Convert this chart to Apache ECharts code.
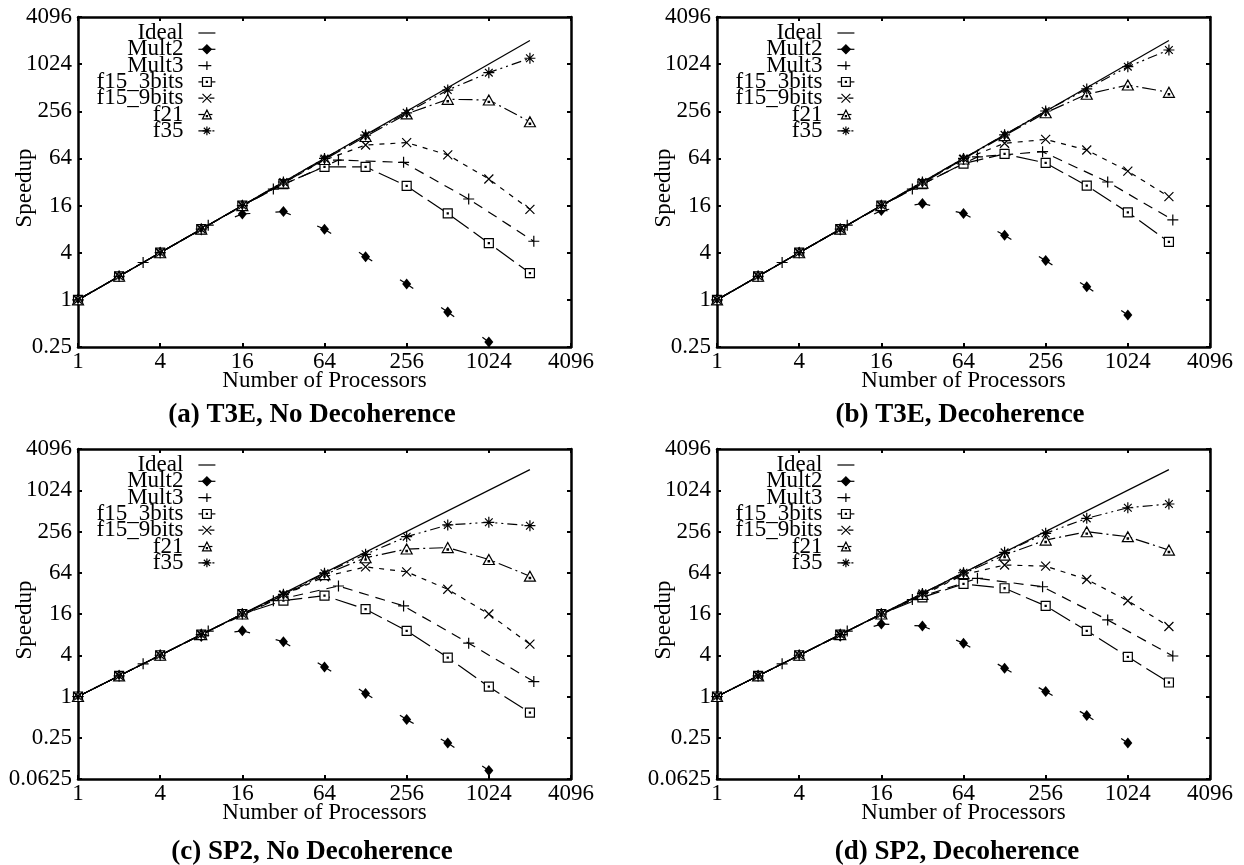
<!DOCTYPE html>
<html>
<head>
<meta charset="utf-8">
<title>Speedup vs number of processors</title>
<script src="https://cdn.jsdelivr.net/npm/echarts@6/dist/echarts.min.js"></script>
<style>
  html, body { margin: 0; padding: 0; background: #fff; }
  #chart { width: 1244px; height: 865px; }
</style>
</head>
<body>
<div id="chart"></div>
<script>
// processor counts
const P2 = [1, 2, 4, 8, 16, 32, 64, 128, 256, 512, 1024, 2048];
const P2_MULT2 = [1, 2, 4, 8, 16, 32, 64, 128, 256, 512, 1024];
const P3 = [1, 3, 9, 27, 81, 243, 729, 2187];
const IDEAL_X = [1, 2048];

const NAMES = ['Ideal', 'Mult2', 'Mult3', 'f15_3bits', 'f15_9bits', 'f21', 'f35'];
const CAPTIONS = ['(a) T3E, No Decoherence', '(b) T3E, Decoherence',
                  '(c) SP2, No Decoherence', '(d) SP2, Decoherence'];

// (a) T3E, no decoherence
const A_MULT2 = [1, 2, 4, 7.8, 12.5, 13.4, 8, 3.56, 1.59, 0.7, 0.29];
const A_MULT3 = [1, 3, 9, 26, 61, 57, 19.4, 5.6];
const A_F15_3 = [1, 2, 4, 8, 16, 30, 50, 50, 28.5, 12.7, 5.3, 2.2];
const A_F15_9 = [1, 2, 4, 8, 16, 31, 61, 95, 102, 71, 35, 14.3];
const A_F21 = [1, 2, 4, 8, 16, 31, 62, 122, 237, 364, 357, 188];
const A_F35 = [1, 2, 4, 8, 16, 32, 64, 127, 245, 478, 797, 1218];

// (b) T3E, decoherence
const B_MULT2 = [1, 2, 4, 7.8, 13.8, 17, 12.7, 6.7, 3.17, 1.47, 0.64];
const B_MULT3 = [1, 3, 9, 26, 67, 78, 32, 10.5];
const B_F15_3 = [1, 2, 4, 8, 16, 30, 55, 73, 56, 28.7, 13.1, 5.5];
const B_F15_9 = [1, 2, 4, 8, 16, 31, 62, 100, 112, 82, 44, 20.8];
const B_F21 = [1, 2, 4, 8, 16, 31, 63, 125, 245, 422, 555, 447];
const B_F35 = [1, 2, 4, 8, 16, 32, 64, 128, 258, 494, 950, 1552];

// (c) SP2, no decoherence
const C_MULT2 = [1, 2, 4, 7.5, 9.1, 6.3, 2.7, 1.11, 0.46, 0.21, 0.083];
const C_MULT3 = [1, 3, 9, 25, 41, 21, 6.0, 1.65];
const C_F15_3 = [1, 2, 4, 8, 16, 25, 29.6, 18.8, 9.1, 3.7, 1.39, 0.58];
const C_F15_9 = [1, 2, 4, 8, 16, 30, 56, 78, 66, 36.7, 16, 5.8];
const C_F21 = [1, 2, 4, 8, 16, 30, 60, 106, 142, 149, 100, 57];
const C_F35 = [1, 2, 4, 8, 16, 31, 63, 119, 215, 319, 349, 311];

// (d) SP2, decoherence
const D_MULT2 = [1, 2, 4, 7.6, 11.4, 10.7, 6.0, 2.58, 1.18, 0.53, 0.21];
const D_MULT3 = [1, 3, 9, 26, 53, 40, 13.1, 3.9];
const D_F15_3 = [1, 2, 4, 8, 16, 28, 44, 38, 21, 9.1, 3.8, 1.6];
const D_F15_9 = [1, 2, 4, 8, 16, 30, 60, 83, 80, 51, 25, 10.5];
const D_F21 = [1, 2, 4, 8, 16, 31, 62, 116, 192, 254, 215, 137];
const D_F35 = [1, 2, 4, 8, 16, 32, 64, 127, 241, 398, 569, 645];

const PANELS = [
  { mult2: A_MULT2, mult3: A_MULT3, f15_3: A_F15_3, f15_9: A_F15_9, f21: A_F21, f35: A_F35, yMin: -2 },
  { mult2: B_MULT2, mult3: B_MULT3, f15_3: B_F15_3, f15_9: B_F15_9, f21: B_F21, f35: B_F35, yMin: -2 },
  { mult2: C_MULT2, mult3: C_MULT3, f15_3: C_F15_3, f15_9: C_F15_9, f21: C_F21, f35: C_F35, yMin: -4 },
  { mult2: D_MULT2, mult3: D_MULT3, f15_3: D_F15_3, f15_9: D_F15_9, f21: D_F21, f35: D_F35, yMin: -4 }
];

const GRIDS = [
  { left: 78, top: 17, width: 493, height: 330, outerBoundsMode: 'none', containLabel: false },
  { left: 717, top: 17, width: 493, height: 330, outerBoundsMode: 'none', containLabel: false },
  { left: 78, top: 449, width: 493, height: 330, outerBoundsMode: 'none', containLabel: false },
  { left: 717, top: 449, width: 493, height: 330, outerBoundsMode: 'none', containLabel: false }
];
const CAP_POS = [[312, 415], [960, 415], [312, 852], [957, 852]];

const FONT = '"Liberation Serif", "Times New Roman", serif';
const LW = 1.2;
const STUB = 8;

const SYM = {
  plus: 'path://M0,5L10,5M5,0L5,10',
  cross: 'path://M0,0L10,10M10,0L0,10',
  star: 'path://M0,5L10,5M5,0L5,10M1.5,1.5L8.5,8.5M8.5,1.5L1.5,8.5',
  box: 'path://M0,0L10,0L10,10L0,10Z M4.4,4.4L5.6,4.4L5.6,5.6L4.4,5.6Z',
  tri: 'path://M5,0L10,9L0,9Z M4.4,5.6L5.6,5.6L5.6,6.8L4.4,6.8Z'
};

// log2 axes: positions go through value axes on the exponent
const pts = (xs, ys) => xs.map((x, k) => [Math.log2(x), Math.log2(ys[k])]);
const pow2 = (v) => String(Math.round(Math.pow(2, v) * 10000) / 10000);

// Mult2 is drawn by gnuplot as short stubs around each point
function stubs(points) {
  return function (params, api) {
    const i = params.dataIndex;
    const p = api.coord(points[i]);
    const children = [];
    [i - 1, i + 1].forEach(function (j) {
      if (j < 0 || j >= points.length) return;
      const q = api.coord(points[j]);
      const dx = q[0] - p[0], dy = q[1] - p[1];
      const len = Math.sqrt(dx * dx + dy * dy);
      if (!len) return;
      const k = Math.min(STUB, len / 2) / len;
      children.push({
        type: 'line',
        shape: { x1: p[0], y1: p[1], x2: p[0] + dx * k, y2: p[1] + dy * k },
        style: { stroke: '#000', lineWidth: LW }
      });
    });
    return { type: 'group', children: children };
  };
}

function lineSeries(i, name, data, symbol, size, dash, fill) {
  return {
    type: 'line', name: name, xAxisIndex: 2 * i, yAxisIndex: 2 * i,
    data: data, symbol: symbol, symbolSize: size,
    itemStyle: { color: fill, borderColor: '#000', borderWidth: LW },
    lineStyle: { color: '#000', width: LW, type: dash },
    emphasis: { disabled: true }
  };
}

function panelSeries(i, d) {
  const mult2 = pts(P2_MULT2, d.mult2);
  const mult2Line = lineSeries(i, 'Mult2', mult2, 'diamond', [9, 11], 'solid', '#000');
  mult2Line.itemStyle.borderWidth = 0;
  mult2Line.lineStyle.width = 0;
  return [
    Object.assign(lineSeries(i, 'Ideal', pts(IDEAL_X, IDEAL_X), 'none', 0, 'solid', '#000'), { z: 1 }),
    mult2Line,
    {
      type: 'custom', name: 'Mult2', xAxisIndex: 2 * i, yAxisIndex: 2 * i,
      data: mult2, renderItem: stubs(mult2), z: 1, silent: true
    },
    lineSeries(i, 'Mult3', pts(P3, d.mult3), SYM.plus, 11, [10, 7], '#000'),
    lineSeries(i, 'f15_3bits', pts(P2, d.f15_3), SYM.box, 9, [22, 6], '#fff'),
    lineSeries(i, 'f15_9bits', pts(P2, d.f15_9), SYM.cross, 9, [5, 6], '#000'),
    lineSeries(i, 'f21', pts(P2, d.f21), SYM.tri, [11, 10], [14, 4, 2, 4], '#fff'),
    lineSeries(i, 'f35', pts(P2, d.f35), SYM.star, 11, [10, 4, 2, 4, 2, 4], '#000')
  ];
}

function axis(extra) {
  return Object.assign({
    type: 'value', interval: 2,
    axisLine: { onZero: false, lineStyle: { color: '#000', width: 2.5 } },
    axisTick: { inside: true, length: 4, lineStyle: { color: '#000', width: 2 } },
    splitLine: { show: false },
    axisLabel: { color: '#000', fontFamily: FONT, fontSize: 23, formatter: pow2 }
  }, extra);
}

const xAxes = [], yAxes = [], series = [], legends = [], graphics = [];
PANELS.forEach(function (d, i) {
  xAxes.push(axis({
    gridIndex: i, position: 'bottom', min: 0, max: 12,
    axisLabel: { color: '#000', fontFamily: FONT, fontSize: 23, margin: 3, formatter: pow2 },
    name: 'Number of Processors', nameLocation: 'middle', nameGap: 22, nameMoveOverlap: false,
    nameTextStyle: { color: '#000', fontFamily: FONT, fontSize: 23 }
  }));
  xAxes.push(axis({ gridIndex: i, position: 'top', min: 0, max: 12, axisLabel: { show: false } }));
  yAxes.push(axis({
    gridIndex: i, position: 'left', min: d.yMin, max: 12,
    axisLabel: { color: '#000', fontFamily: FONT, fontSize: 23, margin: 6, formatter: pow2 },
    name: 'Speedup', nameLocation: 'middle', nameGap: 42, nameMoveOverlap: false,
    nameTextStyle: { color: '#000', fontFamily: FONT, fontSize: 23, padding: [0, 12, 0, 0] }
  }));
  yAxes.push(axis({ gridIndex: i, position: 'right', min: d.yMin, max: 12, axisLabel: { show: false } }));

  panelSeries(i, d).forEach((s) => series.push(s));

  const g = GRIDS[i];
  legends.push({
    orient: 'vertical', align: 'right',
    right: 1244 - (g.left + 138), top: g.top + 4.5,
    padding: 0, itemGap: -6.7, itemWidth: 17, itemHeight: 11,
    selectedMode: false,
    itemStyle: { borderWidth: LW },
    lineStyle: { width: LW },
    textStyle: { fontFamily: FONT, fontSize: 23, color: '#000', padding: [0, 10, 0, 0] },
    data: NAMES.map((n) => (n === 'Ideal' ? { name: n, itemStyle: { opacity: 0 } } : n))
  });

  graphics.push({
    type: 'text', x: CAP_POS[i][0], y: CAP_POS[i][1],
    style: {
      text: CAPTIONS[i], fill: '#000',
      font: 'bold 27px "Liberation Serif", "Times New Roman", serif',
      align: 'center', verticalAlign: 'middle',
      textAlign: 'center', textVerticalAlign: 'middle'
    }
  });
});

const chart = echarts.init(document.getElementById('chart'));
chart.setOption({
  animation: false,
  backgroundColor: '#fff',
  grid: GRIDS,
  xAxis: xAxes,
  yAxis: yAxes,
  legend: legends,
  graphic: graphics,
  series: series
});
window.addEventListener('resize', () => chart.resize());
</script>
</body>
</html>
